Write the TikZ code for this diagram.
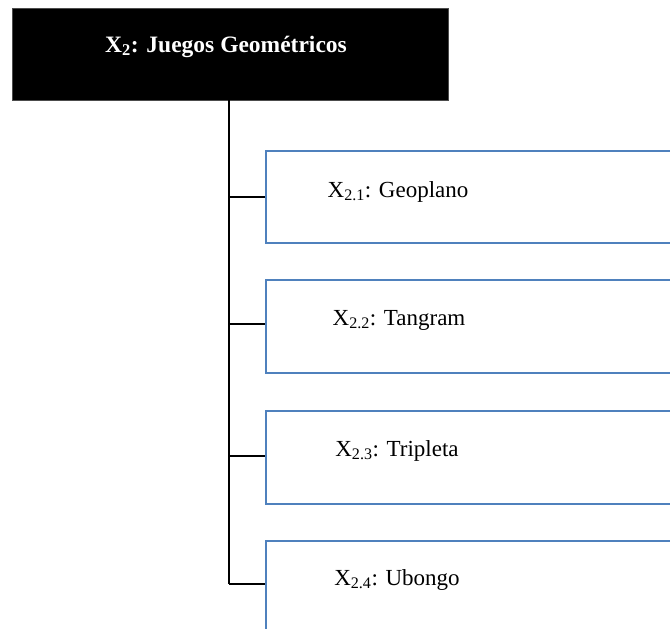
\documentclass[tikz,border=0pt]{standalone}
\usepackage{fontspec}
\setmainfont{Liberation Serif}
\definecolor{boxblue}{HTML}{4F81BD}
\tikzset{
  titlebox/.style={draw=black!70, fill=black, line width=1pt, anchor=north west, inner sep=0pt},
  itembox/.style={draw=boxblue, line width=2.4pt, anchor=north west, inner sep=0pt, minimum width=430pt},
  itemtext/.style={anchor=base, font=\fontsize{23}{26}\selectfont, text=black, inner sep=0pt},
  link/.style={draw=black, line width=1.5pt},
}
\begin{document}
\begin{tikzpicture}[x=1pt,y=-1pt]
\useasboundingbox (0,0) rectangle (670,629);
\clip (0,0) rectangle (670,629);
% head of the tree
\node[titlebox, minimum width=436pt, minimum height=92pt] (head) at (12,8) {};
\node[itemtext, text=white, font=\bfseries\fontsize{23.5}{26}\selectfont] (headtxt) at (226,52) {X\textsubscript{2}: Juegos Geométricos};
% item boxes
\node[itembox, minimum height=92pt] (b1) at (265,150) {};
\node[itembox, minimum height=93pt] (b2) at (265,279) {};
\node[itembox, minimum height=93pt] (b3) at (265,410) {};
\node[itembox, minimum height=120pt] (b4) at (265,540) {};
% item labels
\node[itemtext] (t1) at (398,197) {X\textsubscript{2.1}: Geoplano};
\node[itemtext] (t2) at (399,325) {X\textsubscript{2.2}: Tangram};
\node[itemtext] (t3) at (397,456) {X\textsubscript{2.3}: Tripleta};
\node[itemtext] (t4) at (397,585) {X\textsubscript{2.4}: Ubongo};
% trunk and branches
\coordinate (top) at (229,100);
\coordinate (j1) at (229,197);
\coordinate (j2) at (229,324);
\coordinate (j3) at (229,456);
\coordinate (j4) at (229,584);
\draw[link] (top) -- (j4);
\draw[link] (j1) -- (j1 -| b1.west);
\draw[link] (j2) -- (j2 -| b2.west);
\draw[link] (j3) -- (j3 -| b3.west);
\draw[link] (j4) -- (j4 -| b4.west);
\end{tikzpicture}
\end{document}
